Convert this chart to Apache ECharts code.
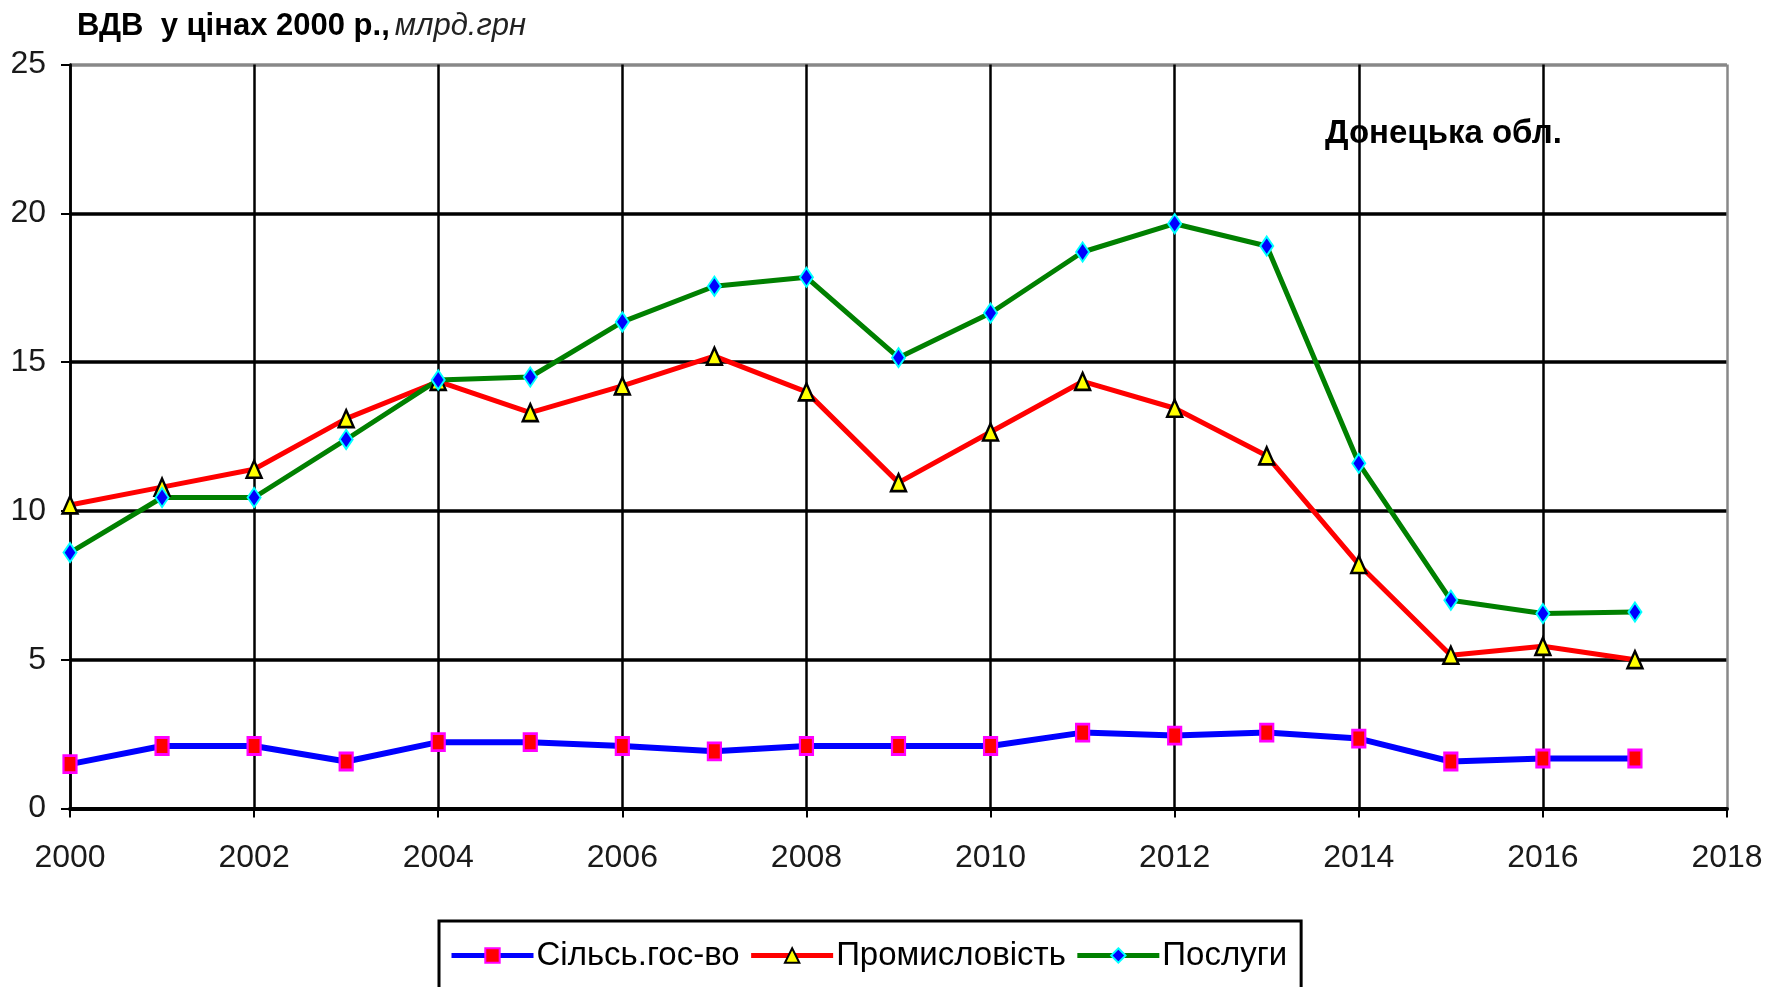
<!DOCTYPE html>
<html>
<head>
<meta charset="utf-8">
<title>ВДВ у цінах 2000 р. — Донецька обл.</title>
<script src="https://cdn.jsdelivr.net/npm/echarts@6/dist/echarts.min.js"></script>
<style>
  html, body { margin: 0; padding: 0; background: #fff; }
  #chart { width: 1773px; height: 987px; }
</style>
</head>
<body>
<div id="chart"></div>
<script>
var years = [2000, 2001, 2002, 2003, 2004, 2005, 2006, 2007, 2008,
             2009, 2010, 2011, 2012, 2013, 2014, 2015, 2016, 2017];
var agriculture = [1.49, 2.1, 2.1, 1.58, 2.23, 2.23, 2.1, 1.92, 2.1,
                   2.1, 2.1, 2.55, 2.45, 2.55, 2.35, 1.58, 1.68, 1.68];
var industry = [10.2, 10.8, 11.4, 13.1, 14.35, 13.3, 14.2, 15.2, 14.0,
                10.95, 12.65, 14.35, 13.45, 11.85, 8.2, 5.15, 5.45, 5.0];
var services = [8.6, 10.45, 10.45, 12.4, 14.4, 14.5, 16.35, 17.55, 17.85,
                15.15, 16.65, 18.7, 19.65, 18.9, 11.6, 7.0, 6.55, 6.6];
var seriesNames = ['Сільсь.гос-во', 'Промисловість', 'Послуги'];

var font = "'Liberation Sans', Arial, sans-serif";

// pair each value with its year for the value x axis
function pairs(values) {
  return values.map(function (v, i) { return [years[i], v]; });
}

var chart = echarts.init(document.getElementById('chart'));

chart.setOption({
  animation: false,
  backgroundColor: '#fff',
  title: [{
    text: '{b|ВДВ  у цінах 2000 р.,} {i|млрд.грн}',
    left: 72,
    top: 6,
    textStyle: {
      rich: {
        b: { fontFamily: font, fontWeight: 'bold', fontSize: 31, color: '#000' },
        i: { fontFamily: font, fontWeight: 'normal', fontStyle: 'italic', fontSize: 31, color: '#222' }
      }
    }
  }, {
    text: 'Донецька обл.',
    left: 1320,
    top: 112,
    textStyle: { fontFamily: font, fontWeight: 'bold', fontSize: 33, color: '#000' }
  }],
  grid: { left: 70, right: 46, top: 64.5, bottom: 178.5 },
  xAxis: {
    type: 'value',
    min: 2000,
    max: 2018,
    interval: 2,
    axisLine: { onZero: false, lineStyle: { color: '#000', width: 4 } },
    axisTick: { show: true, length: 9, lineStyle: { color: '#000', width: 2 } },
    axisLabel: {
      fontFamily: font, fontSize: 32, color: '#1a1a1a', margin: 34,
      formatter: function (v) { return String(v); }
    },
    splitLine: {
      show: true,
      lineStyle: {
        width: 2.5,
        color: ['#000', '#000', '#000', '#000', '#000', '#000', '#000', '#000', '#000', '#888']
      }
    }
  },
  yAxis: {
    type: 'value',
    min: 0,
    max: 25,
    interval: 5,
    axisLine: { show: true, lineStyle: { color: '#000', width: 2.5 } },
    axisTick: { show: true, length: 9, lineStyle: { color: '#000', width: 2 } },
    axisLabel: { fontFamily: font, fontSize: 32, color: '#1a1a1a', margin: 24 },
    splitLine: {
      show: true,
      lineStyle: { width: 3.5, color: ['#000', '#000', '#000', '#000', '#000', '#888'] }
    }
  },
  legend: {
    data: seriesNames,
    left: 439,
    top: 921,
    orient: 'horizontal',
    padding: [18, 14, 40, 10],
    itemGap: 9,
    itemWidth: 82,
    itemHeight: 18,
    borderColor: '#000',
    borderWidth: 3,
    lineStyle: { width: 5 },
    textStyle: { fontFamily: font, fontSize: 33, color: '#000', padding: [0, 0, 0, -2] }
  },
  series: [{
    name: seriesNames[0],
    type: 'line',
    data: pairs(agriculture),
    showAllSymbol: true,
    symbol: 'rect',
    symbolSize: [13, 17],
    lineStyle: { color: '#0000ff', width: 6 },
    itemStyle: { color: '#ff0000', borderColor: '#ff00ff', borderWidth: 2.5 }
  }, {
    name: seriesNames[1],
    type: 'line',
    data: pairs(industry),
    showAllSymbol: true,
    symbol: 'triangle',
    symbolSize: [15, 17],
    lineStyle: { color: '#ff0000', width: 5 },
    itemStyle: { color: '#ffff00', borderColor: '#000', borderWidth: 2.5 }
  }, {
    name: seriesNames[2],
    type: 'line',
    data: pairs(services),
    showAllSymbol: true,
    symbol: 'diamond',
    symbolSize: [13, 19],
    lineStyle: { color: '#008000', width: 5 },
    itemStyle: { color: '#0000ff', borderColor: '#00ffff', borderWidth: 2 }
  }]
});
</script>
</body>
</html>
